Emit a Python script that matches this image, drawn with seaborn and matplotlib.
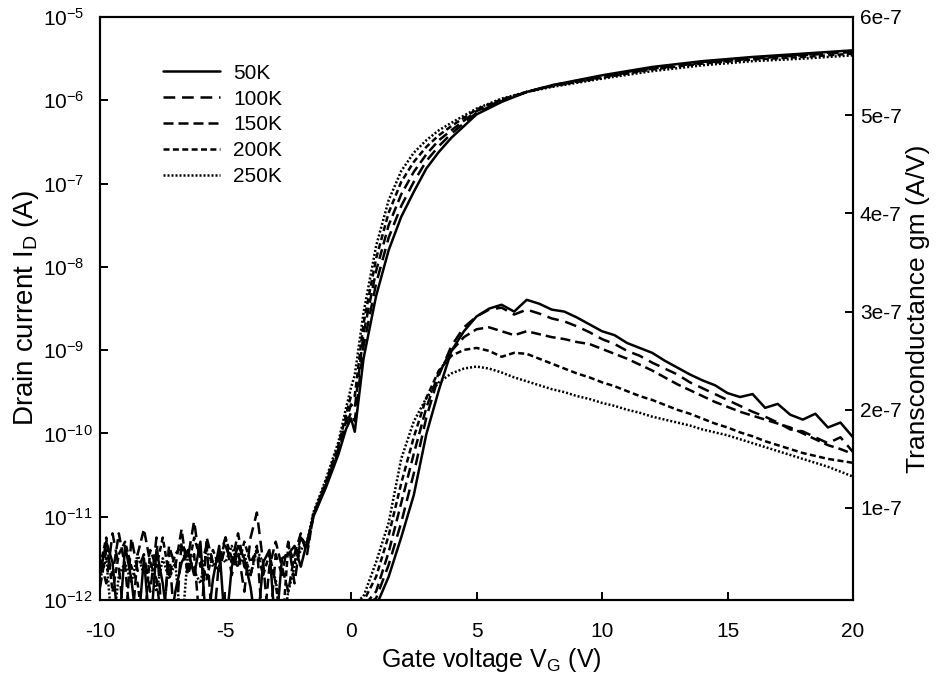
import matplotlib
matplotlib.use("Agg")
import matplotlib.pyplot as plt
from matplotlib.lines import Line2D
from matplotlib.ticker import NullLocator, FixedLocator
import numpy as np
import pandas as pd
import seaborn as sns

# ---------------- data ----------------
temps = ["50K", "100K", "150K", "200K", "250K"]

# gate voltage grid for drain current (noise floor part + on part)
vg_id = [-10.0, -9.75, -9.5, -9.25, -9.0, -8.75, -8.5, -8.25, -8.0, -7.75, -7.5, -7.25,
         -7.0, -6.75, -6.5, -6.25, -6.0, -5.75, -5.5, -5.25, -5.0, -4.75, -4.5, -4.25,
         -4.0, -3.75, -3.5, -3.25, -3.0, -2.75, -2.5, -2.25, -2.0, -1.75,
         -1.5, -1.0, -0.5, -0.2, 0.0, 0.15, 0.5, 1.0, 1.5, 2.0, 2.5, 3.0, 3.5, 4.0,
         5.0, 6.0, 7.0, 8.0, 10.0, 12.0, 14.0, 16.0, 18.0, 20.0]

# log10 of drain current (A)
logid_50K = [-11.7, -11.3, -11.55, -12.4, -11.35, -11.75, -12.4, -11.5, -12.4, -11.4, -11.8, -12.4,
             -11.9, -11.55, -11.4, -11.7, -11.3, -12.4, -11.75, -11.35, -12.4, -11.6, -11.35, -11.5,
             -11.85, -12.4, -11.55, -11.4, -12.4, -11.5, -11.45, -11.35, -11.6, -11.3,
             -11.0, -10.65, -10.25, -9.95, -9.82, -9.98, -9.1, -8.35, -7.8, -7.4, -7.1, -6.82, -6.62, -6.45,
             -6.17, -6.02, -5.9, -5.82, -5.7, -5.6, -5.53, -5.48, -5.44, -5.40]
logid_100K = [-11.5, -11.8, -11.2, -11.6, -12.4, -11.25, -11.65, -11.45, -11.9, -11.25, -12.4, -11.4,
              -12.4, -11.3, -11.5, -11.05, -11.6, -11.35, -12.4, -11.5, -11.25, -11.7, -11.4, -11.9,
              -11.25, -10.95, -11.55, -12.4, -11.45, -11.7, -11.3, -11.8, -11.25, -11.4,
              -11.0, -10.62, -10.22, -9.9, -9.75, -9.85, -8.95, -8.2, -7.65, -7.27, -6.98, -6.73, -6.55, -6.4,
              -6.15, -6.01, -5.9, -5.82, -5.71, -5.61, -5.54, -5.49, -5.45, -5.41]
logid_150K = [-11.85, -11.4, -11.7, -11.2, -11.6, -12.4, -11.45, -11.15, -11.55, -11.75, -12.4, -11.35,
              -11.6, -11.15, -11.7, -11.45, -12.4, -11.25, -11.55, -11.65, -11.35, -11.55, -11.2, -11.6,
              -11.7, -11.35, -12.4, -11.6, -11.3, -11.6, -11.9, -11.45, -11.2, -11.45,
              -10.98, -10.6, -10.18, -9.85, -9.65, -9.7, -8.8, -8.05, -7.5, -7.13, -6.86, -6.65, -6.48, -6.36,
              -6.13, -6.0, -5.9, -5.83, -5.72, -5.62, -5.55, -5.5, -5.46, -5.42]
logid_200K = [-11.6, -11.25, -11.9, -11.45, -11.3, -11.6, -11.8, -12.4, -11.4, -11.6, -11.25, -11.7,
              -11.45, -11.35, -11.65, -11.25, -11.5, -11.75, -11.4, -11.6, -11.25, -11.5, -11.6, -11.3,
              -11.55, -11.4, -11.7, -11.45, -11.8, -12.4, -11.35, -11.55, -11.25, -11.35,
              -10.97, -10.58, -10.14, -9.78, -9.55, -9.55, -8.68, -7.9, -7.35, -6.98, -6.74, -6.56, -6.42, -6.31,
              -6.11, -5.99, -5.9, -5.83, -5.73, -5.63, -5.56, -5.51, -5.48, -5.44]
logid_250K = [-11.75, -11.5, -12.4, -11.7, -11.55, -11.8, -11.45, -11.7, -11.55, -11.9, -11.5, -11.75,
              -11.55, -12.4, -11.45, -11.65, -11.8, -11.4, -11.6, -11.45, -11.55, -11.35, -11.6, -11.45,
              -11.7, -11.4, -11.55, -11.6, -11.75, -12.4, -11.9, -11.6, -11.4, -11.3,
              -10.95, -10.55, -10.1, -9.7, -9.45, -9.3, -8.55, -7.75, -7.2, -6.85, -6.63, -6.48, -6.36, -6.27,
              -6.1, -5.98, -5.9, -5.84, -5.74, -5.65, -5.58, -5.53, -5.5, -5.46]

# gate voltage grid for transconductance
vg_gm = [0.0, 0.5, 1.0, 1.5, 2.0, 2.5, 3.0, 3.5, 4.0, 4.5, 5.0, 5.5, 6.0, 6.5, 7.0, 7.5,
         8.0, 8.5, 9.0, 9.5, 10.0, 10.5, 11.0, 11.5, 12.0, 12.5, 13.0, 13.5, 14.0, 14.5,
         15.0, 15.5, 16.0, 16.5, 17.0, 17.5, 18.0, 18.5, 19.0, 19.5, 20.0]

# transconductance in units of 1e-7 A/V
gm_50K = [0.0, 0.0, 0.0, 0.3, 0.7, 1.13, 1.75, 2.2, 2.6, 2.8, 2.95, 3.03, 3.07, 3.0, 3.12, 3.08,
          3.02, 3.0, 2.94, 2.87, 2.8, 2.76, 2.68, 2.63, 2.58, 2.5, 2.43, 2.36, 2.3, 2.25,
          2.17, 2.13, 2.16, 2.02, 2.06, 1.95, 1.9, 1.96, 1.82, 1.87, 1.72]
gm_100K = [0.0, 0.0, 0.08, 0.42, 0.85, 1.35, 1.92, 2.35, 2.65, 2.84, 2.95, 3.02, 3.04, 2.97, 3.02, 2.98,
           2.93, 2.9, 2.85, 2.79, 2.72, 2.67, 2.6, 2.55, 2.48, 2.42, 2.36, 2.28, 2.22, 2.16,
           2.1, 2.04, 1.98, 1.93, 1.87, 1.8, 1.78, 1.72, 1.66, 1.72, 1.57]
gm_150K = [0.0, 0.0, 0.15, 0.55, 1.05, 1.55, 2.02, 2.38, 2.6, 2.74, 2.82, 2.84, 2.8, 2.76, 2.8, 2.77,
           2.74, 2.72, 2.69, 2.67, 2.62, 2.57, 2.52, 2.46, 2.4, 2.33, 2.26, 2.2, 2.14, 2.08,
           2.03, 1.98, 1.94, 1.9, 1.86, 1.82, 1.76, 1.7, 1.64, 1.6, 1.55]
gm_200K = [0.0, 0.05, 0.3, 0.72, 1.25, 1.72, 2.12, 2.4, 2.55, 2.61, 2.63, 2.6, 2.54, 2.58, 2.57, 2.52,
           2.47, 2.42, 2.37, 2.33, 2.28, 2.24, 2.19, 2.14, 2.1, 2.05, 2.0, 1.96, 1.91, 1.86,
           1.82, 1.77, 1.73, 1.68, 1.64, 1.6, 1.56, 1.53, 1.5, 1.48, 1.46]
gm_250K = [0.0, 0.1, 0.45, 0.85, 1.5, 1.88, 2.12, 2.28, 2.37, 2.42, 2.44, 2.42, 2.38, 2.33, 2.29, 2.25,
           2.21, 2.18, 2.14, 2.11, 2.07, 2.04, 2.0, 1.97, 1.93, 1.9, 1.87, 1.84, 1.8, 1.77,
           1.74, 1.7, 1.66, 1.62, 1.58, 1.54, 1.5, 1.46, 1.42, 1.37, 1.32]

id_ticks = [1e-12, 1e-11, 1e-10, 1e-9, 1e-8, 1e-7, 1e-6, 1e-5]
x_ticks = [-10, -5, 0, 5, 10, 15, 20]
gm_ticks = [1e-7, 2e-7, 3e-7, 4e-7, 5e-7, 6e-7]
gm_tick_labels = ["1e-7", "2e-7", "3e-7", "4e-7", "5e-7", "6e-7"]

logid = {"50K": logid_50K, "100K": logid_100K, "150K": logid_150K,
         "200K": logid_200K, "250K": logid_250K}
gms = {"50K": gm_50K, "100K": gm_100K, "150K": gm_150K, "200K": gm_200K, "250K": gm_250K}

df_id = pd.concat([pd.DataFrame({"Vg": vg_id, "Id": 10.0 ** np.array(logid[t]), "T": t})
                   for t in temps], ignore_index=True)
df_gm = pd.concat([pd.DataFrame({"Vg": vg_gm, "gm": np.array(gms[t]) * 1e-7, "T": t})
                   for t in temps], ignore_index=True)

# ---------------- style ----------------
sns.set_style("ticks")
plt.rcParams["font.family"] = ["Liberation Sans", "DejaVu Sans"]
plt.rcParams["mathtext.fontset"] = "custom"
plt.rcParams["mathtext.rm"] = "Liberation Sans"
plt.rcParams["mathtext.it"] = "Liberation Sans:italic"
plt.rcParams["mathtext.bf"] = "Liberation Sans:bold"
plt.rcParams["axes.linewidth"] = 1.4
plt.rcParams["text.color"] = "black"
plt.rcParams["axes.labelcolor"] = "black"
plt.rcParams["xtick.color"] = "black"
plt.rcParams["ytick.color"] = "black"
plt.rcParams["xtick.labelcolor"] = "black"
plt.rcParams["ytick.labelcolor"] = "black"
plt.rcParams["axes.edgecolor"] = "black"

LW = 1.8
dash_map = {"50K": "", "100K": (4.7, 2.7), "150K": (4.0, 2.0),
            "200K": (2.4, 1.35), "250K": (0.8, 0.8)}

fig = plt.figure(figsize=(9.47, 6.82), dpi=100)
ax = fig.add_axes([100 / 947, 1 - 600 / 682, 753 / 947, 583 / 682])
ax2 = ax.twinx()

sns.lineplot(data=df_id, x="Vg", y="Id", style="T", style_order=temps, dashes=dash_map,
             color="black", linewidth=LW, estimator=None, sort=False, legend=False, ax=ax)
sns.lineplot(data=df_gm, x="Vg", y="gm", style="T", style_order=temps, dashes=dash_map,
             color="black", linewidth=LW, estimator=None, sort=False, legend=False, ax=ax2)

ax.set_yscale("log")
ax.set_xlim(-10, 20)
ax.set_ylim(1e-12, 1e-5)
ax.yaxis.set_major_locator(FixedLocator(id_ticks))
ax.yaxis.set_minor_locator(NullLocator())
ax.set_xticks(x_ticks)
ax.set_xticklabels([str(v) for v in x_ticks])

ax2.set_ylim(0.063e-7, 6e-7)
ax2.set_yticks(gm_ticks)
ax2.set_yticklabels(gm_tick_labels)

for a in (ax, ax2):
    for s in a.spines.values():
        s.set_visible(True)
        s.set_linewidth(1.5)
        s.set_color("black")

TICK_FS = 15
ax.tick_params(axis="both", which="major", direction="in", length=6, width=1.4,
               labelsize=TICK_FS, colors="black")
ax.tick_params(axis="x", pad=16)
ax.tick_params(axis="y", pad=41, right=False)
for lab in ax.get_yticklabels():
    lab.set_horizontalalignment("left")
ax2.tick_params(axis="y", which="major", direction="in", length=6, width=1.4,
                labelsize=TICK_FS, pad=5, colors="black")
ax.tick_params(top=False)

ax.set_xlabel("Gate voltage V$_\\mathregular{G}$ (V)", fontsize=18, color="black")
ax.set_ylabel("Drain current I$_\\mathregular{D}$ (A)", fontsize=20, color="black")
ax2.set_ylabel("Transconductance gm (A/V)", fontsize=19, color="black")
ax.xaxis.set_label_coords(0.52, -0.079)
ax.yaxis.set_label_coords(-0.078, 0.5)
ax2.yaxis.set_label_coords(1.07, 0.5)

handles = []
for t in temps:
    if dash_map[t] == "":
        handles.append(Line2D([], [], color="black", linewidth=LW, linestyle="-"))
    else:
        handles.append(Line2D([], [], color="black", linewidth=LW, dashes=dash_map[t]))
leg = ax.legend(handles, temps, loc="upper left", bbox_to_anchor=(0.0837, 0.920),
                frameon=False, fontsize=15, handlelength=2.74, handletextpad=0.63,
                labelspacing=0.33, borderpad=0.0, borderaxespad=0.0)
for txt in leg.get_texts():
    txt.set_color("black")

fig.savefig("out.png", dpi=100)
